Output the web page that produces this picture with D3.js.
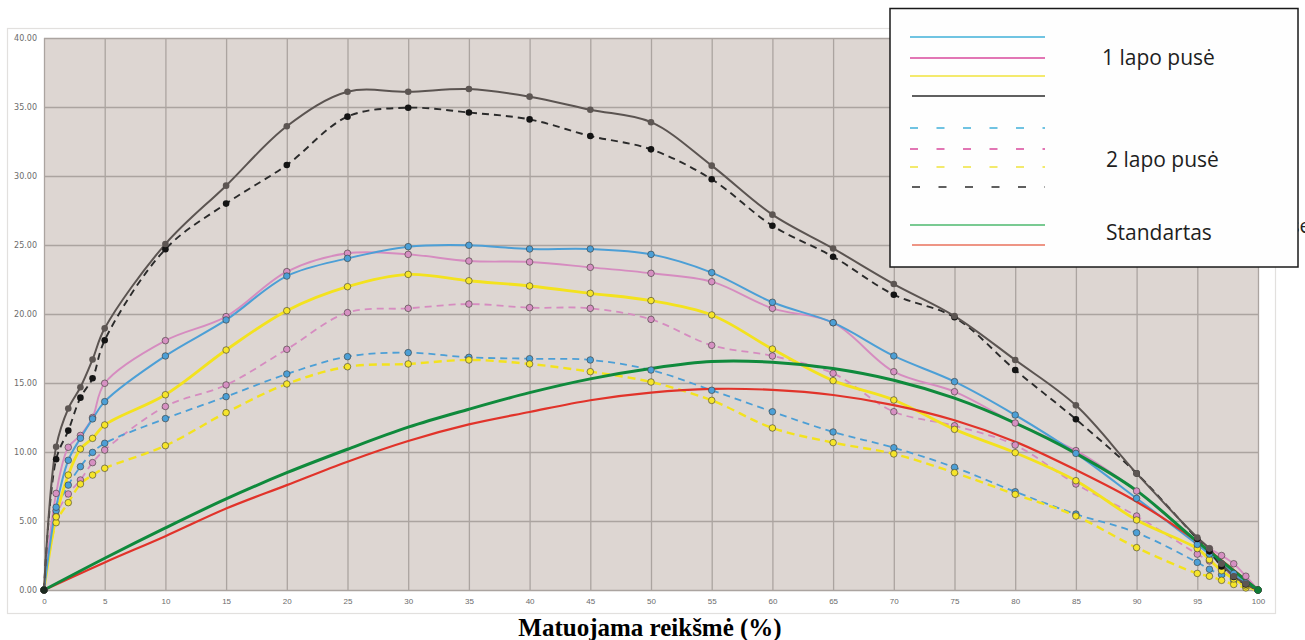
<!DOCTYPE html>
<html>
<head>
<meta charset="utf-8">
<script src="https://cdn.jsdelivr.net/npm/d3@7/dist/d3.min.js"></script>
<style>
  html, body { margin: 0; padding: 0; background: #fff; }
  svg { display: block; }
</style>
</head>
<body>
<svg id="chart" width="1305" height="640"></svg>
<script>
// Measurement points (%)
const xValues = [0, 1, 2, 3, 4, 5, 10, 15, 20, 25, 30, 35, 40, 45, 50, 55, 60, 65, 70, 75, 80, 85, 90, 95, 96, 97, 98, 99, 100];

// Leaf side 1 (solid lines)
const side1Blue   = [0, 6.0, 9.4, 11.0, 12.4, 13.65, 16.96, 19.57, 22.75, 24.03, 24.88, 24.98, 24.71, 24.71, 24.32, 23.0, 20.85, 19.37, 16.96, 15.1, 12.68, 9.9, 6.64, 3.3, 2.6, 1.9, 1.2, 0.5, 0];
const side1Pink   = [0, 7.0, 10.34, 11.2, 12.5, 14.98, 18.07, 19.81, 23.07, 24.4, 24.32, 23.84, 23.77, 23.38, 22.95, 22.34, 20.41, 19.37, 15.82, 14.37, 12.1, 10.1, 7.17, 3.5, 3.0, 2.5, 1.9, 1.0, 0];
const side1Yellow = [0, 5.3, 8.33, 10.22, 10.99, 11.96, 14.15, 17.39, 20.24, 21.98, 22.87, 22.41, 22.03, 21.5, 20.97, 19.93, 17.46, 15.17, 13.77, 11.64, 9.95, 7.92, 5.07, 3.0, 2.2, 1.4, 0.8, 0.3, 0];
const side1Dark   = [0, 10.38, 13.15, 14.69, 16.7, 18.96, 25.07, 29.3, 33.6, 36.1, 36.1, 36.3, 35.75, 34.8, 33.9, 30.75, 27.2, 24.75, 22.17, 19.85, 16.67, 13.38, 8.45, 3.8, 3.0, 1.9, 1.0, 0.45, 0];

// Leaf side 2 (dashed lines)
const side2Blue   = [0, 5.75, 7.6, 8.94, 9.97, 10.63, 12.42, 14.01, 15.65, 16.91, 17.2, 16.86, 16.76, 16.67, 15.94, 14.47, 12.92, 11.45, 10.31, 8.89, 7.12, 5.5, 4.15, 2.0, 1.5, 1.1, 0.7, 0.3, 0];
const side2Pink   = [0, 5.36, 6.96, 7.97, 9.23, 10.14, 13.3, 14.86, 17.44, 20.1, 20.41, 20.72, 20.46, 20.41, 19.61, 17.73, 16.96, 15.7, 12.92, 11.9, 10.5, 7.68, 5.36, 2.6, 2.1, 1.5, 1.0, 0.5, 0];
const side2Yellow = [0, 4.88, 6.33, 7.68, 8.33, 8.82, 10.46, 12.85, 14.93, 16.18, 16.38, 16.67, 16.38, 15.82, 15.07, 13.74, 11.74, 10.68, 9.86, 8.5, 6.93, 5.36, 3.07, 1.2, 1.0, 0.7, 0.4, 0.15, 0];
const side2Black  = [0, 9.47, 11.55, 13.94, 15.34, 18.1, 24.7, 28.0, 30.8, 34.3, 34.95, 34.6, 34.1, 32.9, 31.93, 29.76, 26.4, 24.15, 21.4, 19.76, 15.94, 12.37, 8.45, 3.7, 2.8, 1.7, 0.95, 0.4, 0];

// Standard curves
const standardX     = [0, 5, 10, 15, 20, 25, 30, 35, 40, 45, 50, 55, 60, 65, 70, 75, 80, 85, 90, 95, 100];
const standardGreen = [0, 2.3, 4.5, 6.6, 8.5, 10.2, 11.8, 13.1, 14.3, 15.3, 16.05, 16.55, 16.5, 16.05, 15.2, 13.9, 12.1, 9.9, 7.2, 3.5, 0];
const standardRed   = [0, 2.0, 3.9, 5.9, 7.6, 9.3, 10.8, 12.0, 12.9, 13.75, 14.3, 14.57, 14.5, 14.13, 13.4, 12.3, 10.75, 8.7, 6.4, 3.5, 0];

// Axis ticks
const xTicks = d3.range(0, 101, 5);
const yTicks = [0, 5, 10, 15, 20, 25, 30, 35, 40];

const axisTitle = "Matuojama reikšmė (%)";
const legendGroups = ["1 lapo pusė", "2 lapo pusė", "Standartas"];

const svg = d3.select("#chart");

const plot = { left: 44, right: 1258, top: 38, bottom: 590 };
const x = d3.scaleLinear().domain([0, 100]).range([plot.left, plot.right]);
const y = d3.scaleLinear().domain([0, 40]).range([plot.bottom, plot.top]);

// Chart frame
svg.append("rect")
  .attr("x", 7.5).attr("y", 28.5).attr("width", 1268).attr("height", 585)
  .attr("fill", "#fff").attr("stroke", "#e2e0de").attr("stroke-width", 1.2);

// Plot background
svg.append("rect")
  .attr("x", plot.left).attr("y", plot.top)
  .attr("width", plot.right - plot.left).attr("height", plot.bottom - plot.top)
  .attr("fill", "#ddd6d2");

// Grid lines drawn by axes
const gridColor = "#aba4a0";
const gx = svg.append("g")
  .attr("transform", `translate(0,${plot.bottom})`)
  .call(d3.axisBottom(x).tickValues(xTicks).tickSize(-(plot.bottom - plot.top)).tickFormat(""));
const gy = svg.append("g")
  .attr("transform", `translate(${plot.left},0)`)
  .call(d3.axisLeft(y).tickValues(yTicks).tickSize(-(plot.right - plot.left)).tickFormat(""));
[gx, gy].forEach(g => {
  g.select(".domain").remove();
  g.selectAll(".tick line").attr("stroke", gridColor).attr("stroke-width", 1.3);
});

// Tick labels
const yLab = svg.append("g")
  .attr("transform", `translate(${plot.left - 7},0)`)
  .call(d3.axisLeft(y).tickValues(yTicks).tickSize(0).tickPadding(0).tickFormat(d3.format(".2f")));
yLab.select(".domain").remove();
yLab.selectAll("text")
  .attr("font-family", "'DejaVu Sans', sans-serif").attr("font-size", 8)
  .attr("fill", "#6b6b6b");

const xLab = svg.append("g")
  .attr("transform", `translate(0,${plot.bottom + 8})`)
  .call(d3.axisBottom(x).tickValues(xTicks).tickSize(0).tickPadding(0).tickFormat(d3.format("d")));
xLab.select(".domain").remove();
xLab.selectAll("text")
  .attr("font-family", "'Liberation Sans Narrow', 'Liberation Sans', sans-serif").attr("font-size", 8)
  .attr("fill", "#6b6b6b");

// Series
const series = [
  { values: side2Pink,   color: "#d68cc0", marker: "#d690c2", width: 1.8, dash: "7 5" },
  { values: side2Blue,   color: "#4c9fd6", marker: "#4c9fd6", width: 1.8, dash: "7 5" },
  { values: side2Yellow, color: "#f3e21e", marker: "#f6e52a", width: 2.4, dash: "8 5" },
  { values: side1Yellow, color: "#f3e21e", marker: "#f6e52a", width: 2.8, dash: null },
  { values: side1Pink,   color: "#d68cc0", marker: "#d690c2", width: 1.9, dash: null },
  { values: side1Blue,   color: "#4c9fd6", marker: "#4c9fd6", width: 2.0, dash: null },
  { values: side2Black,  color: "#2b2b2b", marker: "#141414", width: 1.9, dash: "7 5", noOutline: true },
  { values: side1Dark,   color: "#5b5451", marker: "#5d5653", width: 2.0, dash: null, noOutline: true }
];

const line = d3.line()
  .x(d => x(d[0]))
  .y(d => y(d[1]))
  .curve(d3.curveCatmullRom.alpha(0.5));

series.forEach(s => {
  s.points = xValues.map((xv, i) => [xv, s.values[i]]);
  svg.append("path")
    .datum(s.points)
    .attr("d", line)
    .attr("fill", "none")
    .attr("stroke", s.color)
    .attr("stroke-width", s.width)
    .attr("stroke-dasharray", s.dash);
});

// Standard curves
const standards = [
  { values: standardRed,   color: "#e1332a", width: 2.2 },
  { values: standardGreen, color: "#0f8a3c", width: 3.0 }
];
standards.forEach(s => {
  s.points = standardX.map((xv, i) => [xv, s.values[i]]);
  svg.append("path")
    .datum(s.points)
    .attr("d", line)
    .attr("fill", "none")
    .attr("stroke", s.color)
    .attr("stroke-width", s.width);
});

// Markers
series.forEach(s => {
  svg.append("g").selectAll("circle")
    .data(s.points)
    .join("circle")
    .attr("cx", d => x(d[0]))
    .attr("cy", d => y(d[1]))
    .attr("r", 3.3)
    .attr("fill", s.marker)
    .attr("stroke", s.noOutline ? "none" : "#3c3a36")
    .attr("stroke-width", 0.6);
});

// End markers of the standard curve
svg.append("g").selectAll("circle")
  .data([[0, standardGreen[0]], [100, standardGreen[standardGreen.length - 1]]])
  .join("circle")
  .attr("cx", d => x(d[0]))
  .attr("cy", d => y(d[1]))
  .attr("r", 3.4)
  .attr("fill", (d, i) => i === 0 ? "#1c2a20" : "#0f7a36");

// Axis title
svg.append("text")
  .attr("x", 650).attr("y", 636)
  .attr("text-anchor", "middle")
  .attr("font-family", "'Liberation Serif', 'Times New Roman', serif")
  .attr("font-weight", "bold")
  .attr("font-size", 25)
  .attr("fill", "#000")
  .text(axisTitle);

// Label text partly hidden behind the legend box, running off the right edge
svg.append("text")
  .attr("x", 1290).attr("y", 233)
  .attr("font-family", "'Open Sans', sans-serif")
  .attr("font-size", 20)
  .attr("fill", "#222")
  .text("se");

// Legend
const legend = svg.append("g");
legend.append("rect")
  .attr("x", 890).attr("y", 8.5).attr("width", 408).attr("height", 258.5)
  .attr("fill", "#fefefe").attr("stroke", "#1a1a1a").attr("stroke-width", 1.5);

const legendLines = [
  { y: 37,  color: "#41b0d9", dash: null, x0: 910 },
  { y: 58,  color: "#d94a9c", dash: null, x0: 910 },
  { y: 76,  color: "#f0e33c", dash: null, x0: 910 },
  { y: 96,  color: "#2b2b2b", dash: null, x0: 912 },
  { y: 128, color: "#41b0d9", dash: "8 18.5", x0: 910 },
  { y: 149, color: "#d94a9c", dash: "8 18.5", x0: 910 },
  { y: 167, color: "#f0e33c", dash: "8 18.5", x0: 910 },
  { y: 187, color: "#2b2b2b", dash: "8 18.5", x0: 912 },
  { y: 225, color: "#4db86e", dash: null, x0: 910 },
  { y: 245, color: "#e8725c", dash: null, x0: 912 }
];
legend.selectAll("line")
  .data(legendLines)
  .join("line")
  .attr("x1", d => d.x0).attr("x2", 1045)
  .attr("y1", d => d.y).attr("y2", d => d.y)
  .attr("stroke", d => d.color)
  .attr("stroke-width", 1.6)
  .attr("stroke-dasharray", d => d.dash);

const legendText = [
  { x: 1102, y: 65, text: legendGroups[0] },
  { x: 1106, y: 167, text: legendGroups[1] },
  { x: 1106, y: 240, text: legendGroups[2] }
];
legend.selectAll("text")
  .data(legendText)
  .join("text")
  .attr("x", d => d.x).attr("y", d => d.y)
  .attr("font-family", "'Open Sans', 'Noto Sans', sans-serif")
  .attr("font-size", 21)
  .attr("fill", "#1e1e1e")
  .text(d => d.text);
</script>
</body>
</html>
